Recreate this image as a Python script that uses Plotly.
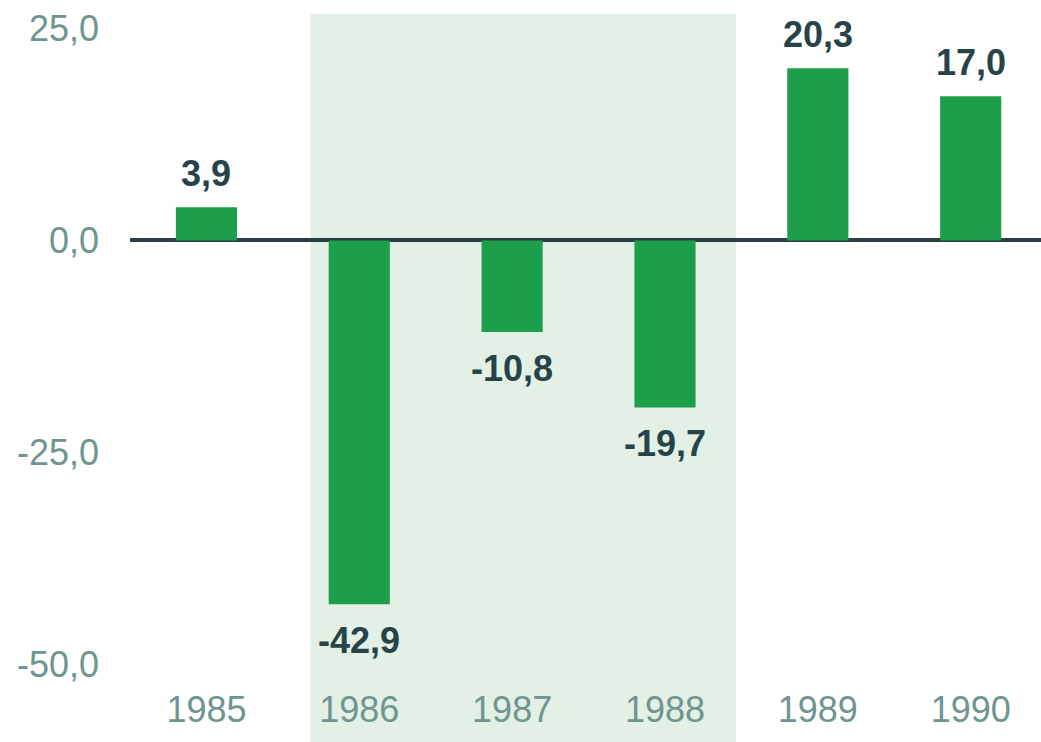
import plotly.graph_objects as go

years = ["1985", "1986", "1987", "1988", "1989", "1990"]
values = [3.9, -42.9, -10.8, -19.7, 20.3, 17.0]
labels = ["3,9", "-42,9", "-10,8", "-19,7", "20,3", "17,0"]
y_ticks = [-50, -25, 0, 25]
y_ticktext = ["-50,0", "-25,0", "0,0", "25,0"]
shade_span = [0.68, 3.465]  # shaded period in category units (1986-1988)

BAR = "#1c9e4a"
TEXT_DARK = "#26434a"
TICK = "#6f9590"
SHADE = "#e2f0e5"
ZERO = "#2b3f43"
FONT = "Liberation Sans, Arial, sans-serif"

fig = go.Figure()
fig.add_trace(go.Bar(x=years, y=values, marker=dict(color=BAR, line=dict(width=0)),
                     width=0.4, hoverinfo="skip"))

annotations = []
for i, (v, lab) in enumerate(zip(values, labels)):
    pos = v >= 0
    annotations.append(dict(
        x=i, y=v, xref="x", yref="y", text="<b>" + lab + "</b>", showarrow=False,
        yanchor="bottom" if pos else "top", yshift=11 if pos else -14,
        font=dict(size=36, color=TEXT_DARK, family=FONT)))

fig.add_shape(type="rect", xref="x", yref="paper", x0=shade_span[0], x1=shade_span[1],
              y0=0, y1=1, fillcolor=SHADE, line=dict(width=0), layer="below")

fig.update_layout(
    width=1041, height=742,
    margin=dict(l=130, r=0, t=14, b=0),
    paper_bgcolor="white", plot_bgcolor="white",
    separators=",.",
    showlegend=False,
    annotations=annotations,
    font=dict(family=FONT, size=36, color=TICK),
    xaxis=dict(type="category", range=[-0.5, 5.46], showgrid=False, showline=False,
               zeroline=False, ticks="", ticklabelposition="inside",
               tickfont=dict(size=36, color=TICK), ticklabelstandoff=10),
    yaxis=dict(range=[-59.15, 26.7], tickvals=y_ticks, ticktext=y_ticktext,
               showgrid=False, showline=False, zeroline=True, zerolinecolor=ZERO,
               zerolinewidth=4, ticks="", tickfont=dict(size=36, color=TICK),
               ticklabelstandoff=30),
)

fig.write_html("out.html", config={"displayModeBar": False},
               post_script="document.body.style.margin='0';document.body.style.overflow='hidden';")
